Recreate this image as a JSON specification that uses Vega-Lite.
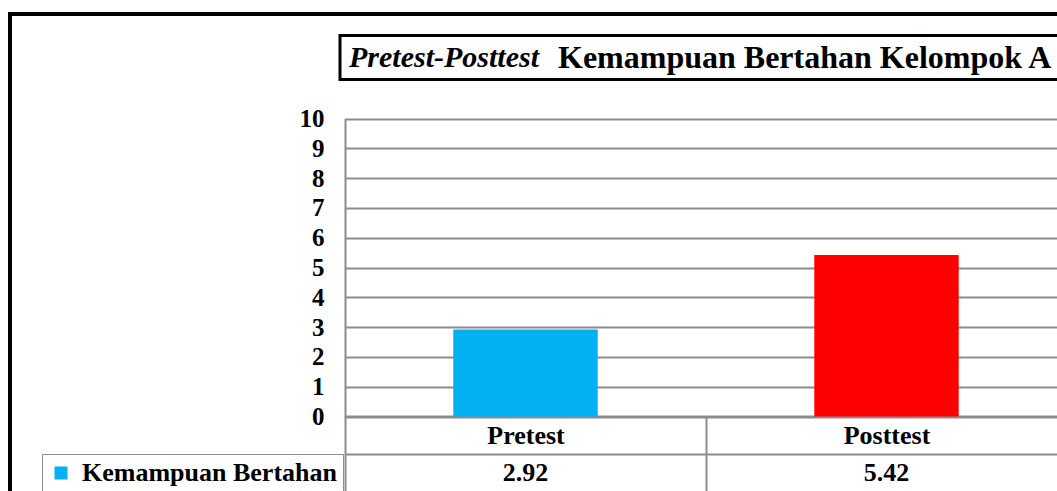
{
  "$schema": "https://vega.github.io/schema/vega-lite/v6.json",
  "width": 1100,
  "height": 500,
  "autosize": "none",
  "padding": {"left": 10, "top": 14, "right": 0, "bottom": 0},
  "background": "white",
  "view": {"stroke": "black", "strokeWidth": 4, "fill": "white"},
  "config": {
    "font": "Liberation Serif",
    "text": {"font": "Liberation Serif"}
  },
  "data": {"values": [
    {"test": "Pretest", "series": "Kemampuan Bertahan", "value": 2.92},
    {"test": "Posttest", "series": "Kemampuan Bertahan", "value": 5.42}
  ]},
  "layer": [
    {
      "mark": {"type": "bar", "width": {"band": 0.4}},
      "encoding": {
        "x": {
          "field": "test", "type": "nominal", "sort": ["Pretest", "Posttest"],
          "scale": {"type": "band", "range": [335, 1057], "paddingInner": 0, "paddingOuter": 0},
          "axis": {
            "orient": "bottom", "offset": -98, "title": null, "labelAngle": 0,
            "domain": true, "domainColor": "#8c8c8c", "domainWidth": 2,
            "ticks": true, "tickBand": "extent", "tickSize": 80, "tickColor": "#8c8c8c", "tickWidth": 2,
            "labelPadding": -61, "labelBaseline": "middle",
            "labelFont": "Liberation Serif", "labelFontWeight": "bold", "labelFontSize": 26, "labelColor": "black",
            "grid": false
          }
        },
        "y": {
          "field": "value", "type": "quantitative",
          "scale": {"domain": [0, 10], "range": [402.5, 104.5], "nice": false, "zero": true},
          "axis": {
            "values": [0, 1, 2, 3, 4, 5, 6, 7, 8, 9, 10], "format": "d", "title": null,
            "offset": -335, "grid": true, "gridColor": "#8c8c8c", "gridWidth": 2,
            "domain": true, "domainColor": "#8c8c8c", "domainWidth": 2, "ticks": false,
            "labelPadding": 21, "labelFont": "Liberation Serif", "labelFontWeight": "bold",
            "labelFontSize": 25, "labelColor": "black"
          }
        },
        "color": {
          "condition": {"test": "datum.test === 'Posttest'", "value": "#FF0000"},
          "field": "series", "type": "nominal",
          "scale": {"range": ["#00B0F0"]},
          "legend": {
            "orient": "none", "legendX": 32, "legendY": 440, "title": null,
            "strokeColor": "#8c8c8c", "padding": 6,
            "symbolType": "square", "symbolSize": 169, "symbolStrokeWidth": 0,
            "labelFont": "Liberation Serif", "labelFontWeight": "bold", "labelFontSize": 26,
            "labelOffset": 8, "labelLimit": 500, "labelColor": "black"
          }
        }
      }
    },
    {
      "mark": {"type": "text", "font": "Liberation Serif", "fontWeight": "bold", "fontSize": 26, "color": "black", "baseline": "middle"},
      "encoding": {
        "x": {
          "field": "test", "type": "nominal", "sort": ["Pretest", "Posttest"],
          "scale": {"type": "band", "range": [335, 1057], "paddingInner": 0, "paddingOuter": 0},
          "axis": {
            "orient": "bottom", "offset": -60, "title": null,
            "domain": true, "domainColor": "#8c8c8c", "domainWidth": 2,
            "ticks": false, "labels": false, "grid": false
          }
        },
        "y": {
          "field": "series", "type": "nominal",
          "scale": {"type": "band", "range": [440, 477], "paddingInner": 0, "paddingOuter": 0},
          "axis": null
        },
        "text": {"field": "value", "type": "quantitative", "format": ".2f"}
      }
    },
    {
      "data": {"values": [{"part1": "Pretest-Posttest", "part2": "Kemampuan Bertahan Kelompok A"}]},
      "encoding": {
        "x": {"datum": 0, "type": "quantitative", "scale": {"domain": [0, 1], "range": [330, 1100], "nice": false, "zero": false}, "axis": null},
        "y": {"datum": 0, "type": "quantitative", "scale": {"domain": [0, 1], "range": [65.5, 21.5], "nice": false, "zero": false}, "axis": null}
      },
      "layer": [
        {
          "mark": {"type": "rect", "fillOpacity": 0, "stroke": "black", "strokeWidth": 3},
          "encoding": {
            "x2": {"datum": 1},
            "y2": {"datum": 1}
          }
        },
        {
          "mark": {"type": "text", "align": "left", "baseline": "middle", "dx": 9, "font": "Liberation Serif", "fontWeight": "bold", "fontStyle": "italic", "fontSize": 30, "color": "black"},
          "encoding": {
            "y": {"datum": 0.5, "type": "quantitative"},
            "text": {"field": "part1"}
          }
        },
        {
          "mark": {"type": "text", "align": "left", "baseline": "middle", "dx": 218, "font": "Liberation Serif", "fontWeight": "bold", "fontSize": 32, "color": "black"},
          "encoding": {
            "y": {"datum": 0.5, "type": "quantitative"},
            "text": {"field": "part2"}
          }
        }
      ]
    }
  ],
  "resolve": {
    "scale": {"x": "independent", "y": "independent"},
    "axis": {"x": "independent", "y": "independent"}
  }
}
